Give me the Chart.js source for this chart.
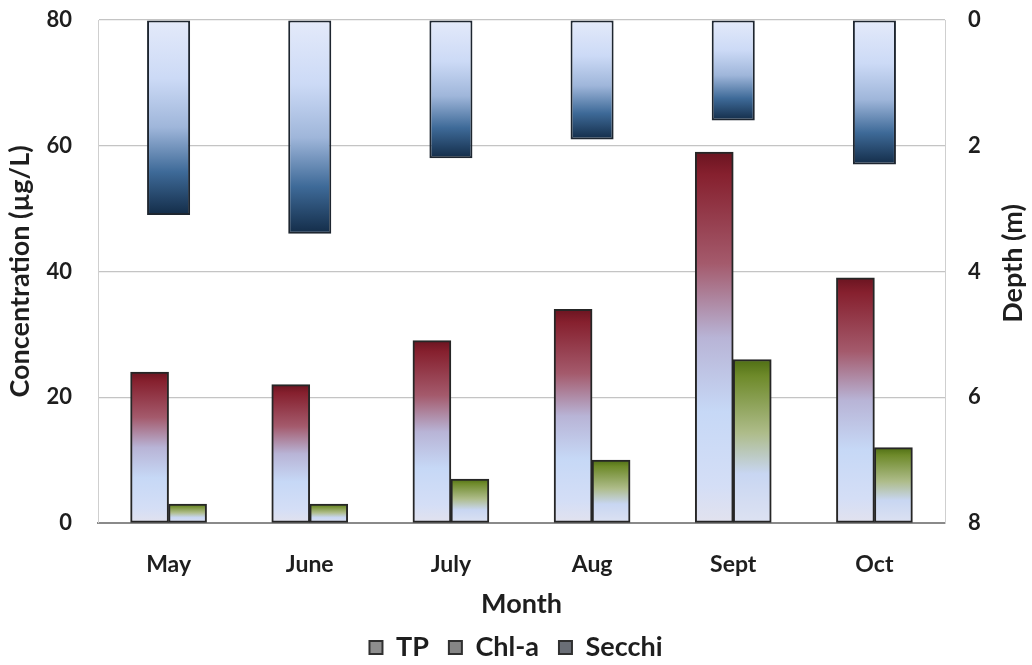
<!DOCTYPE html>
<html>
<head>
<meta charset="utf-8">
<script src="https://cdn.jsdelivr.net/npm/chart.js@4.4.1/dist/chart.umd.min.js"></script>
<style>
  html, body { margin: 0; padding: 0; background: #ffffff; }
  #wrap { width: 1032px; height: 665px; position: relative; }
</style>
</head>
<body>
<div id="wrap"><canvas id="c" width="1032" height="665"></canvas></div>
<script>
// ---- data ----
const months = ['May', 'June', 'July', 'Aug', 'Sept', 'Oct'];
const tpValues = [24, 22, 29, 34, 59, 39];          // µg/L
const chlaValues = [3, 3, 7, 10, 26, 12];           // µg/L
const secchiDepths = [3.1, 3.4, 2.2, 1.9, 1.6, 2.3]; // m
const seriesNames = ['TP', 'Chl-a', 'Secchi'];
const leftTitle = 'Concentration (µg/L)';
const rightTitle = 'Depth (m)';
const xTitle = 'Month';

const FONT = 'Lato, "Open Sans", sans-serif';
const TXT = '#1e1e1e';

function vgrad(ctx, axisId, stops, fallback) {
  const chart = ctx.chart;
  const sc = chart.scales && chart.scales[axisId];
  if (!sc || ctx.type !== 'data' || !ctx.parsed) return fallback;
  const v = ctx.parsed.y;
  const a = sc.getPixelForValue(v);
  const b = sc.getPixelForValue(0);
  const top = Math.min(a, b), bot = Math.max(a, b);
  if (!isFinite(top) || !isFinite(bot) || bot - top < 1) return fallback;
  const g = chart.ctx.createLinearGradient(0, top, 0, bot);
  stops.forEach(s => g.addColorStop(s[0], s[1]));
  return g;
}

const tpStops = [[0, '#6a1420'], [0.06, '#86202e'], [0.3, '#a45a6c'], [0.5, '#b8b4d6'], [0.7, '#c6d8f6'], [0.9, '#d4def6'], [1, '#e2e2ee']];
const chlStops = [[0, '#4f6e14'], [0.1, '#6e8a2a'], [0.45, '#aebc8a'], [0.7, '#c8d6f2'], [1, '#dde2f2']];
const secStops = [[0, '#e4eafa'], [0.3, '#ccdaf6'], [0.55, '#9fb6da'], [0.78, '#3e6a98'], [1, '#132c48']];

const rightTitlePlugin = {
  id: 'rightTitle',
  afterDraw(chart) {
    const c = chart.ctx;
    const area = chart.chartArea;
    c.save();
    c.translate(1013, (area.top + area.bottom) / 2 - 8);
    c.rotate(-Math.PI / 2);
    c.font = 'bold 27px ' + FONT;
    c.fillStyle = TXT;
    c.textAlign = 'center';
    c.textBaseline = 'middle';
    c.fillText(rightTitle, 0, 0);
    c.restore();
  }
};

new Chart(document.getElementById('c'), {
  type: 'bar',
  data: {
    labels: months,
    datasets: [
      {
        label: seriesNames[0],
        data: tpValues,
        yAxisID: 'y',
        barThickness: 38,
        backgroundColor: (ctx) => vgrad(ctx, 'y', tpStops, '#9a4050'),
        borderColor: '#262626',
        borderWidth: 2,
        borderSkipped: false,
        order: 2
      },
      {
        label: seriesNames[1],
        data: chlaValues,
        yAxisID: 'y',
        barThickness: 38,
        backgroundColor: (ctx) => vgrad(ctx, 'y', chlStops, '#8a9a50'),
        borderColor: '#262626',
        borderWidth: 2,
        borderSkipped: false,
        order: 3
      },
      {
        label: seriesNames[2],
        data: secchiDepths,
        yAxisID: 'y2',
        grouped: false,
        categoryPercentage: 1,
        barPercentage: 0.305,
        backgroundColor: (ctx) => vgrad(ctx, 'y2', secStops, '#4a6a90'),
        borderColor: '#1e2630',
        borderWidth: 2,
        borderSkipped: false,
        order: 1
      }
    ]
  },
  options: {
    responsive: false,
    animation: false,
    devicePixelRatio: 1,
    layout: { padding: { top: 20, left: 0, right: 0, bottom: -6 } },
    plugins: {
      tooltip: { enabled: false },
      legend: {
        position: 'bottom',
        labels: {
          font: { family: FONT, size: 27, weight: 'bold' },
          color: TXT,
          boxWidth: 13,
          boxHeight: 13,
          padding: 20,
          generateLabels(chart) {
            const fills = ['#8e8e8e', '#858585', '#6a6e76'];
            return seriesNames.map((n, i) => ({
              text: n,
              fillStyle: fills[i],
              strokeStyle: '#303030',
              lineWidth: 2,
              hidden: false,
              datasetIndex: i,
              fontColor: TXT
            }));
          }
        }
      }
    },
    scales: {
      x: {
        grid: { display: false, drawTicks: false },
        border: { display: true, color: '#8a8a8a', width: 2 },
        ticks: { font: { family: FONT, size: 23, weight: 'bold' }, color: TXT, padding: 28 },
        title: { display: true, text: xTitle, font: { family: FONT, size: 27, weight: 'bold' }, color: TXT, padding: { top: 0, bottom: -6 } },
        afterFit(s) { s.height = 91; }
      },
      y: {
        position: 'left',
        min: 0, max: 80,
        ticks: { stepSize: 20, font: { family: FONT, size: 22, weight: 'bold' }, color: TXT, padding: 0 },
        grid: { color: '#c4c4c4', lineWidth: 1.2, drawTicks: true, tickLength: 26, tickColor: 'rgba(0,0,0,0)' },
        border: { display: true, color: '#cfcfcf' },
        title: { display: true, text: leftTitle, font: { family: FONT, size: 27, weight: 'bold' }, color: TXT, padding: { top: 4, bottom: 0 } },
        afterFit(s) { s.width = 98; }
      },
      y2: {
        position: 'right',
        min: 0, max: 8,
        reverse: true,
        ticks: { stepSize: 2, font: { family: FONT, size: 22, weight: 'bold' }, color: TXT, padding: 0 },
        grid: { display: true, drawOnChartArea: false, drawTicks: true, tickLength: 23, tickColor: 'rgba(0,0,0,0)' },
        border: { display: true, color: '#cfcfcf' },
        afterFit(s) { s.width = 87; }
      }
    }
  },
  plugins: [rightTitlePlugin]
});
</script>
</body>
</html>
